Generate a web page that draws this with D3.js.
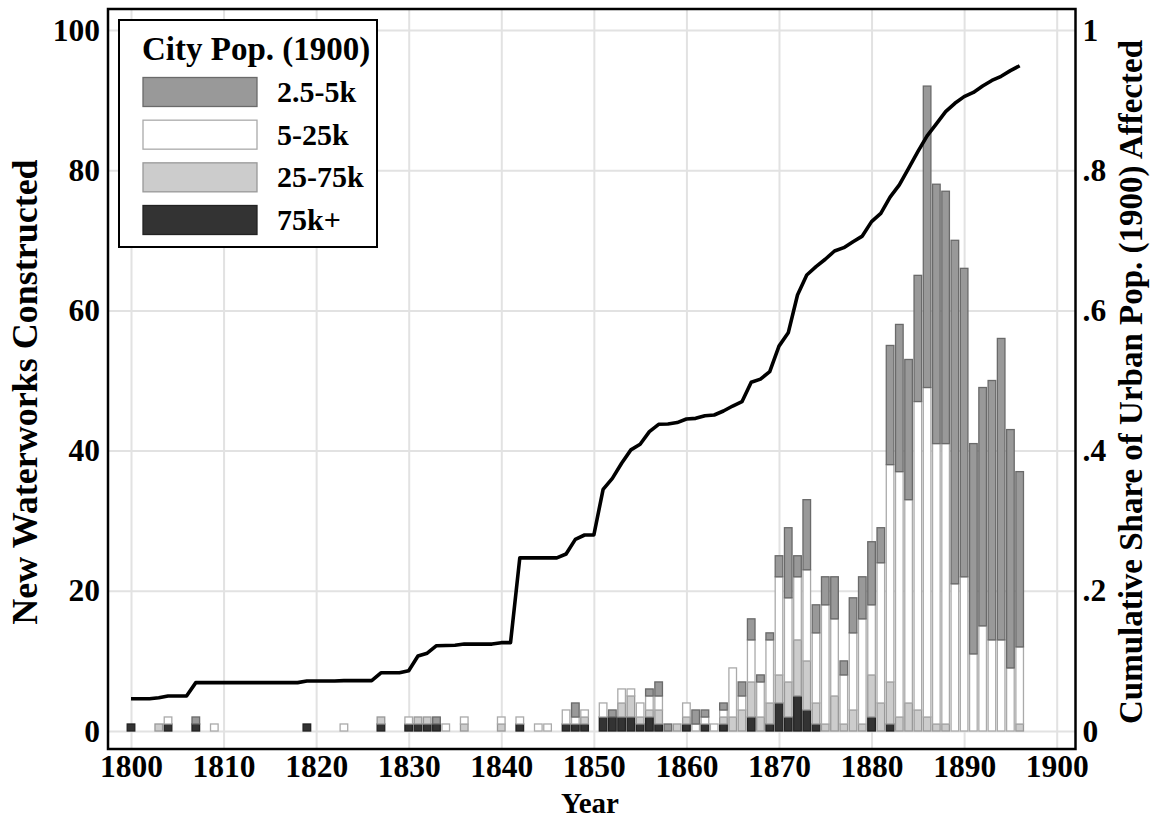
<!DOCTYPE html>
<html>
<head>
<meta charset="utf-8">
<script src="https://cdn.jsdelivr.net/npm/d3@7"></script>
<style>
  body { margin: 0; background: #fff; }
  text { font-family: "Liberation Serif", "Times New Roman", serif; font-weight: bold; fill: #000; }
  .grid line { stroke: #e2e2e2; stroke-width: 2; }
  .grid path { display: none; }
</style>
</head>
<body>
<div id="container"></div>
<script>
// years 1800..1896, one value per year (new waterworks by 1900 city size)
const years = d3.range(1800, 1897);

const pop75kPlus = [
  1,0,0,0,1,0,0,1,0,0,
  0,0,0,0,0,0,0,0,0,1,
  0,0,0,0,0,0,0,1,0,0,
  1,1,1,1,0,0,0,0,0,0,
  0,0,1,0,0,0,0,1,1,1,
  0,2,2,2,2,1,2,1,0,0,
  1,0,1,0,1,0,0,2,0,1,
  4,2,5,3,1,0,0,0,0,0,
  2,0,1,0,0,0,0,0,0,0,
  0,0,0,0,0,0,0
];
const pop25to75k = [
  0,0,0,1,0,0,0,0,0,0,
  0,0,0,0,0,0,0,0,0,0,
  0,0,0,0,0,0,0,1,0,0,
  0,1,1,0,0,0,1,0,0,0,
  1,0,0,0,0,0,0,0,0,1,
  0,0,0,2,3,1,1,2,0,1,
  1,0,0,0,1,2,3,5,2,3,
  4,5,8,7,3,1,5,1,3,1,
  6,4,6,2,4,3,2,1,1,0,
  0,0,0,0,0,0,1
];
const pop5to25k = [
  0,0,0,0,1,0,0,0,0,1,
  0,0,0,0,0,0,0,0,0,0,
  0,0,0,1,0,0,0,0,0,0,
  1,0,0,0,1,0,1,0,0,0,
  1,0,1,0,1,1,0,2,1,1,
  0,2,0,2,1,2,2,2,0,0,
  2,1,1,1,1,7,2,6,5,9,
  14,12,9,13,10,17,11,7,11,15,
  10,20,31,35,29,44,47,40,40,21,
  22,11,15,13,13,9,11
];
const pop2to5k = [
  0,0,0,0,0,0,0,1,0,0,
  0,0,0,0,0,0,0,0,0,0,
  0,0,0,0,0,0,0,0,0,0,
  0,0,0,1,0,0,0,0,0,0,
  0,0,0,0,0,0,0,0,2,0,
  0,0,1,0,0,0,1,2,1,0,
  0,2,1,0,1,0,2,3,1,1,
  3,10,3,10,4,4,6,2,5,6,
  9,5,17,21,20,18,43,37,36,49,
  44,30,34,37,43,34,25
];
// cumulative share of 1900 urban population affected (right axis)
const cumShare = [
  .046,.046,.046,.0475,.050,.050,.050,.069,.069,.069,
  .069,.069,.069,.069,.069,.069,.069,.069,.069,.0713,
  .0713,.0713,.0713,.0718,.0718,.0718,.0718,.083,.083,.083,
  .086,.107,.111,.1217,.122,.1224,.124,.124,.124,.124,
  .126,.126,.247,.247,.247,.247,.247,.2525,.2734,.2796,
  .2796,.3447,.3604,.382,.401,.409,.427,.4375,.438,.440,
  .445,.446,.4498,.4508,.4565,.4636,.4698,.4974,.502,.5126,
  .549,.568,.622,.6505,.6624,.673,.6847,.6895,.698,.706,
  .7266,.7385,.7615,.779,.8027,.8264,.849,.866,.8835,.8954,
  .905,.911,.920,.928,.934,.942,.949
];

const xTicks = [1800,1810,1820,1830,1840,1850,1860,1870,1880,1890,1900];
const yTicks = [0,20,40,60,80,100];
const y2Ticks = [0,.2,.4,.6,.8,1];

const keys = ['p75', 'p25', 'p5', 'p2'];
const labels = {p2: '2.5-5k', p5: '5-25k', p25: '25-75k', p75: '75k+'};
const fills = {p2: '#999999', p5: '#ffffff', p25: '#cccccc', p75: '#333333'};
const strokes = {p2: '#6a6a6a', p5: '#aaaaaa', p25: '#999999', p75: '#222222'};

const table = years.map((yr, i) => ({
  year: yr, p75: pop75kPlus[i], p25: pop25to75k[i], p5: pop5to25k[i], p2: pop2to5k[i]
}));

const W = 1151, H = 821;
const frame = {left: 108, right: 1075.5, top: 9, bottom: 749};

const svg = d3.select('#container').append('svg')
  .attr('width', W).attr('height', H);

const x = d3.scaleLinear().domain([1800, 1900]).range([131, 1056.7]);
const y = d3.scaleLinear().domain([0, 100]).range([731, 30]);
const y2 = d3.scaleLinear().domain([0, 1]).range([731, 30]);

// grid
svg.append('g')
  .attr('class', 'grid')
  .attr('transform', `translate(0, ${frame.bottom})`)
  .call(d3.axisBottom(x).tickValues(xTicks).tickSize(-(frame.bottom - frame.top)).tickFormat(''));
svg.append('g')
  .attr('class', 'grid')
  .attr('transform', `translate(${frame.left}, 0)`)
  .call(d3.axisLeft(y).tickValues(yTicks).tickSize(-(frame.right - frame.left)).tickFormat(''));

// bars
const bw = 7.6;
const stacked = d3.stack().keys(keys)(table);
stacked.forEach(layer => {
  svg.append('g')
    .selectAll('rect')
    .data(layer.filter(d => d[1] - d[0] > 0))
    .enter()
    .append('rect')
    .attr('x', d => x(d.data.year) - bw / 2)
    .attr('y', d => y(d[1]))
    .attr('width', bw)
    .attr('height', d => y(d[0]) - y(d[1]))
    .attr('fill', fills[layer.key])
    .attr('stroke', strokes[layer.key])
    .attr('stroke-width', 1.3);
});

// cumulative share line
const line = d3.line()
  .x((d, i) => x(years[i]))
  .y(d => y2(d));
svg.append('path')
  .datum(cumShare)
  .attr('d', line)
  .attr('fill', 'none')
  .attr('stroke', '#000')
  .attr('stroke-width', 3.6)
  .attr('stroke-linejoin', 'round');

// frame
svg.append('rect')
  .attr('x', frame.left).attr('y', frame.top)
  .attr('width', frame.right - frame.left).attr('height', frame.bottom - frame.top)
  .attr('fill', 'none').attr('stroke', '#000').attr('stroke-width', 2.5);

// axes labels
const fs = 31.5;
const xAxis = svg.append('g')
  .attr('transform', `translate(0, ${frame.bottom})`)
  .call(d3.axisBottom(x).tickValues(xTicks).tickSize(0).tickPadding(6).tickFormat(d3.format('d')));
const yAxis = svg.append('g')
  .attr('transform', `translate(${frame.left}, 0)`)
  .call(d3.axisLeft(y).tickValues(yTicks).tickSize(0).tickPadding(8));
const y2Axis = svg.append('g')
  .attr('transform', `translate(${frame.right}, 0)`)
  .call(d3.axisRight(y2).tickValues(y2Ticks).tickSize(0).tickPadding(7)
    .tickFormat(d => d === 0 ? '0' : d === 1 ? '1' : d3.format('.1f')(d).replace(/^0/, '')));
[xAxis, yAxis, y2Axis].forEach(g => {
  g.select('.domain').remove();
  g.selectAll('text').attr('font-family', null).style('font-size', fs + 'px');
});

// titles
svg.append('text')
  .attr('transform', 'translate(37, 392) rotate(-90)')
  .attr('text-anchor', 'middle')
  .style('font-size', '36px')
  .text('New Waterworks Constructed');
svg.append('text')
  .attr('transform', 'translate(1142, 382) rotate(-90)')
  .attr('text-anchor', 'middle')
  .style('font-size', '33px')
  .text('Cumulative Share of Urban Pop. (1900) Affected');
svg.append('text')
  .attr('x', 590).attr('y', 813)
  .attr('text-anchor', 'middle')
  .style('font-size', '29px')
  .text('Year');

// legend
const legend = svg.append('g');
legend.append('rect')
  .attr('x', 119).attr('y', 20).attr('width', 258).attr('height', 227)
  .attr('fill', '#fff').attr('stroke', '#000').attr('stroke-width', 2);
legend.append('text')
  .attr('x', 142).attr('y', 60)
  .style('font-size', '33px')
  .text('City Pop. (1900)');
const legendKeys = ['p2', 'p5', 'p25', 'p75'];
const ly = d3.scalePoint().domain(legendKeys).range([92, 220]);
const items = legend.selectAll('g.item')
  .data(legendKeys)
  .enter()
  .append('g')
  .attr('class', 'item');
items.append('rect')
  .attr('x', 143).attr('y', k => ly(k) - 14.5)
  .attr('width', 114).attr('height', 29)
  .attr('fill', k => fills[k]).attr('stroke', k => strokes[k]).attr('stroke-width', 1.3);
items.append('text')
  .attr('x', 277).attr('y', k => ly(k) + 10)
  .style('font-size', '30px')
  .text(k => labels[k]);
</script>
</body>
</html>
